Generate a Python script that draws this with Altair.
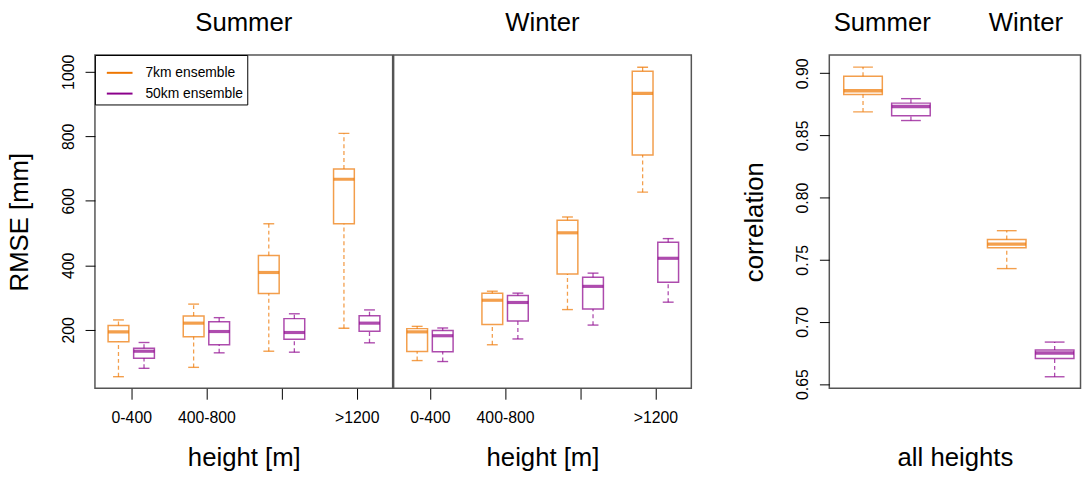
import altair as alt
import pandas as pd

# ---------------- data ----------------
groups = ["0-400", "400-800", "800-1200", ">1200"]
tick_labels = ["0-400", "400-800", "", ">1200"]
series = ["7km ensemble", "50km ensemble"]
colors = ["#EE7600", "#8B008B"]
seasons = ["Summer", "Winter"]

# RMSE [mm] per height class: lower whisker, Q1, median, Q3, upper whisker
summer_7km = [[55, 163, 194, 214, 231], [84, 179, 221, 243, 280],
              [134, 313, 378, 431, 529], [205, 529, 667, 699, 809]]
summer_50km = [[81, 112, 134, 143, 161], [129, 154, 195, 225, 238],
               [131, 171, 192, 235, 250], [160, 196, 221, 244, 262]]
winter_7km = [[105, 133, 194, 204, 211], [154, 217, 292, 314, 320],
              [263, 373, 501, 540, 550], [627, 742, 933, 1002, 1014]]
winter_50km = [[102, 132, 182, 198, 206], [172, 228, 285, 307, 314],
               [215, 265, 335, 363, 376], [286, 348, 422, 472, 483]]

# correlation, all heights: lower whisker, Q1, median, Q3, upper whisker
corr_summer_7km = [0.869, 0.883, 0.886, 0.8976, 0.905]
corr_summer_50km = [0.862, 0.8658, 0.8733, 0.876, 0.8796]
corr_winter_7km = [0.7429, 0.7596, 0.7626, 0.7663, 0.7734]
corr_winter_50km = [0.6559, 0.6705, 0.675, 0.6774, 0.6838]

series_offset = [-0.17, 0.17]
corr_positions = [1.0, 1.5, 2.5, 3.0]
corr_label_positions = [1.2, 2.7]

rmse_ticks = [200, 400, 600, 800, 1000]
corr_ticks = [0.65, 0.70, 0.75, 0.80, 0.85, 0.90]

FONT = "Liberation Sans"


def rmse_frame(s7, s50):
    rows = []
    for i, g in enumerate(groups):
        for k, stats in enumerate((s7[i], s50[i])):
            rows.append(dict(group=g, series=series[k], pos=i + 1 + series_offset[k],
                             lo=stats[0], q1=stats[1], med=stats[2],
                             q3=stats[3], hi=stats[4]))
    return pd.DataFrame(rows)


df_summer = rmse_frame(summer_7km, summer_50km)
df_winter = rmse_frame(winter_7km, winter_50km)

corr_rows = []
for pos, season, s, stats in zip(
        corr_positions,
        ["Summer", "Summer", "Winter", "Winter"],
        [series[0], series[1], series[0], series[1]],
        [corr_summer_7km, corr_summer_50km, corr_winter_7km, corr_winter_50km]):
    corr_rows.append(dict(season=season, series=s, pos=pos, lo=stats[0],
                          q1=stats[1], med=stats[2], q3=stats[3], hi=stats[4]))
df_corr = pd.DataFrame(corr_rows)
df_corr_labels = pd.DataFrame({"season": seasons, "pos": corr_label_positions})

cscale = alt.Scale(domain=series, range=colors)

label_expr = "[" + ",".join("'" + t + "'" for t in tick_labels) + "][datum.value - 1]"

x_axis_rmse = alt.Axis(values=[1, 2, 3, 4], labelExpr=label_expr, title="height [m]",
                       domain=False, grid=False, tickSize=11, tickColor="black",
                       labelFontSize=16, labelPadding=11, labelColor="black",
                       labelOverlap=False, labelFont=FONT,
                       titleFontSize=26, titleFontWeight="normal", titleFont=FONT,
                       titleY=78, titleBaseline="alphabetic", titleColor="black")

y_axis_rmse = alt.Axis(values=rmse_ticks, format="d", title="RMSE [mm]",
                       domain=False, grid=False,
                       labelAngle=270, labelAlign="center", labelBaseline="alphabetic",
                       labelPadding=12, tickSize=10, tickColor="black",
                       labelFontSize=16, labelColor="black", labelOverlap=False,
                       labelFont=FONT, titleFont=FONT,
                       titleFontSize=26, titleFontWeight="normal", titleAngle=270,
                       titleBaseline="alphabetic", titleX=-68, titleColor="black")

x_axis_corr = alt.Axis(title="all heights", labels=False, ticks=False, domain=False,
                       grid=False, titleFontSize=26, titleFontWeight="normal",
                       titleFont=FONT, titleY=78, titleBaseline="alphabetic",
                       titleColor="black")

y_axis_corr = alt.Axis(values=corr_ticks, format=".2f", title="correlation",
                       domain=False, grid=False,
                       labelAngle=270, labelAlign="center", labelBaseline="alphabetic",
                       labelPadding=12, tickSize=10, tickColor="black",
                       labelFontSize=16, labelColor="black", labelOverlap=False,
                       labelFont=FONT, titleFont=FONT,
                       titleFontSize=26, titleFontWeight="normal", titleAngle=270,
                       titleBaseline="alphabetic", titleX=-68, titleColor="black")


def box_layers(df, xscale, xaxis, yscale, yaxis, box_w, cap_w, med_t, legend):
    def X():
        return alt.X("pos:Q", scale=xscale, axis=xaxis)

    def Y(f):
        return alt.Y(f + ":Q", scale=yscale, axis=yaxis)

    def Y2(f):
        return alt.Y2(f + ":Q")

    def C():
        return alt.Color("series:N", scale=cscale, legend=legend)

    base = alt.Chart(df)
    box = base.mark_bar(filled=False, size=box_w, strokeWidth=1.5, opacity=0.7).encode(
        x=X(), y=Y("q1"), y2=Y2("q3"), color=C())
    wlo = base.mark_rule(strokeDash=[4, 3], strokeWidth=1.3, opacity=0.7).encode(
        x=X(), y=Y("lo"), y2=Y2("q1"), color=C())
    whi = base.mark_rule(strokeDash=[4, 3], strokeWidth=1.3, opacity=0.7).encode(
        x=X(), y=Y("q3"), y2=Y2("hi"), color=C())
    clo = base.mark_tick(orient="horizontal", size=cap_w, thickness=1.4).encode(
        x=X(), y=Y("lo"), color=C())
    chi = base.mark_tick(orient="horizontal", size=cap_w, thickness=1.4).encode(
        x=X(), y=Y("hi"), color=C())
    med = base.mark_tick(orient="horizontal", size=box_w, thickness=med_t).encode(
        x=X(), y=Y("med"), color=C())
    return [box, wlo, whi, clo, chi, med]


def panel_title(season, width):
    return alt.Chart(pd.DataFrame({"season": [season]})).mark_text(
        fontSize=26, font=FONT, baseline="alphabetic", align="center",
        color="black").encode(x=alt.value(width / 2), y=alt.value(-24),
                              text="season:N")


rmse_yscale = alt.Scale(domain=[19, 1052], nice=False, zero=False, padding=0)
rmse_xscale = alt.Scale(domain=[0.517, 4.478], nice=False, zero=False, padding=0)
corr_yscale = alt.Scale(domain=[0.6466, 0.9147], nice=False, zero=False, padding=0)
corr_xscale = alt.Scale(domain=[0.648, 3.27], nice=False, zero=False, padding=0)

legend = alt.Legend(title=None, orient="top-left", offset=0, symbolType="stroke",
                    symbolSize=676, symbolStrokeWidth=2, symbolOpacity=1,
                    symbolOffset=7,
                    labelFontSize=14, labelFont=FONT, labelColor="black",
                    padding=4, rowPadding=-10, labelOffset=12,
                    strokeColor="black", fillColor="white", cornerRadius=0)

PW, PH = 301, 337

summer = alt.layer(
    *box_layers(df_summer, rmse_xscale, x_axis_rmse, rmse_yscale, y_axis_rmse,
                21, 11, 3.2, legend),
    panel_title("Summer", PW),
).properties(width=PW, height=PH)

winter = alt.layer(
    *box_layers(df_winter, rmse_xscale, x_axis_rmse, rmse_yscale, None,
                21, 11, 3.2, None),
    panel_title("Winter", PW),
).properties(width=PW, height=PH)

corr_labels = alt.Chart(df_corr_labels).mark_text(
    fontSize=26, font=FONT, baseline="alphabetic", color="black").encode(
    x=alt.X("pos:Q", scale=corr_xscale, axis=x_axis_corr),
    y=alt.value(-24), text="season:N")

corr = alt.layer(*box_layers(df_corr, corr_xscale, x_axis_corr, corr_yscale,
                             y_axis_corr, 39, 20, 3.5, None), corr_labels).properties(
    width=254, height=PH)

left = alt.hconcat(summer, winter, spacing=-1.5).resolve_scale(
    color="independent").resolve_legend(color="independent")

chart = alt.hconcat(left, corr, spacing=48.5).resolve_scale(
    color="independent").resolve_legend(color="independent").properties(
    padding={"left": 6, "top": 7, "right": 0, "bottom": 0},
    background="white").configure(font=FONT).configure_view(
    stroke="#555555", strokeWidth=1.5)

chart.save("out.html", embed_options={"renderer": "svg", "actions": False})
